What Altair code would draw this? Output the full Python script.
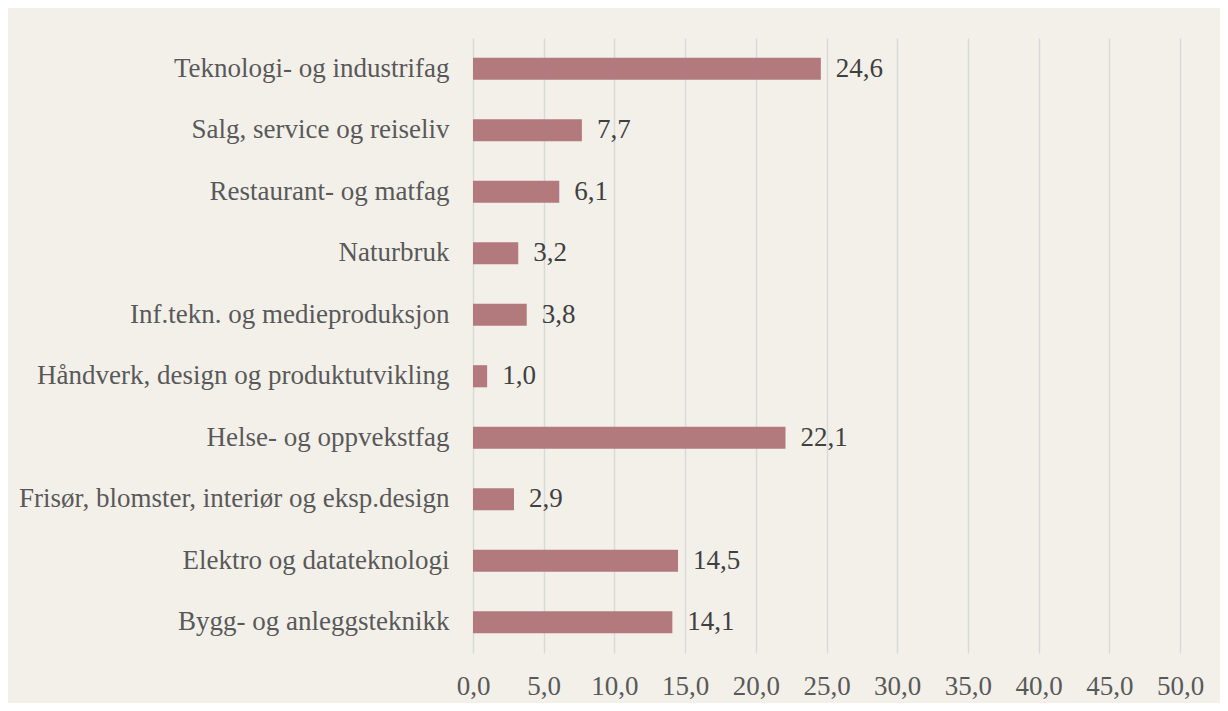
import altair as alt
import pandas as pd

categories = [
    "Teknologi- og industrifag",
    "Salg, service og reiseliv",
    "Restaurant- og matfag",
    "Naturbruk",
    "Inf.tekn. og medieproduksjon",
    "Håndverk, design og produktutvikling",
    "Helse- og oppvekstfag",
    "Frisør, blomster, interiør og eksp.design",
    "Elektro og datateknologi",
    "Bygg- og anleggsteknikk",
]
values = [24.6, 7.7, 6.1, 3.2, 3.8, 1.0, 22.1, 2.9, 14.5, 14.1]
x_ticks = [0, 5, 10, 15, 20, 25, 30, 35, 40, 45, 50]

df = pd.DataFrame({"kategori": categories, "verdi": values})
df["etikett"] = [f"{v:.1f}".replace(".", ",") for v in values]

FONT = "'Times New Roman', 'Liberation Serif', 'DejaVu Serif', serif"
TXT = "#595959"
FS = 27

y_enc = alt.Y(
    "kategori:N",
    sort=categories,
    scale=alt.Scale(paddingInner=0.64, paddingOuter=0.32),
    axis=alt.Axis(
        title=None, ticks=False, domain=False, grid=False,
        labelFont=FONT, labelFontSize=FS, labelColor=TXT,
        labelPadding=24, labelLimit=0,
    ),
)
x_enc = alt.X(
    "verdi:Q",
    scale=alt.Scale(domain=[0, 50], nice=False),
    axis=alt.Axis(
        title=None, values=x_ticks, ticks=False, domain=False,
        grid=True, gridColor="#d9d9d9", gridWidth=1.5,
        labelExpr="replace(format(datum.value, '.1f'), '.', ',')",
        labelFont=FONT, labelFontSize=FS, labelColor=TXT, labelPadding=20,
        labelFlush=False, labelOverlap=False,
    ),
)

bars = alt.Chart(df).mark_bar(color="#b27a7d").encode(x=x_enc, y=y_enc)
text = alt.Chart(df).mark_text(
    align="left", baseline="middle", dx=15, font=FONT, fontSize=FS, color="#404040"
).encode(x="verdi:Q", y=alt.Y("kategori:N", sort=categories), text="etikett:N")

chart = (
    alt.layer(bars, text)
    .properties(
        width=707, height=615,
        background="#f3f0ea",
        padding={"left": 465, "top": 30, "right": 40, "bottom": 50},
        autosize=alt.AutoSizeParams(type="none"),
    )
    .configure_view(stroke=None)
)

chart.save("out.html", embed_options={"renderer": "svg", "actions": False})
